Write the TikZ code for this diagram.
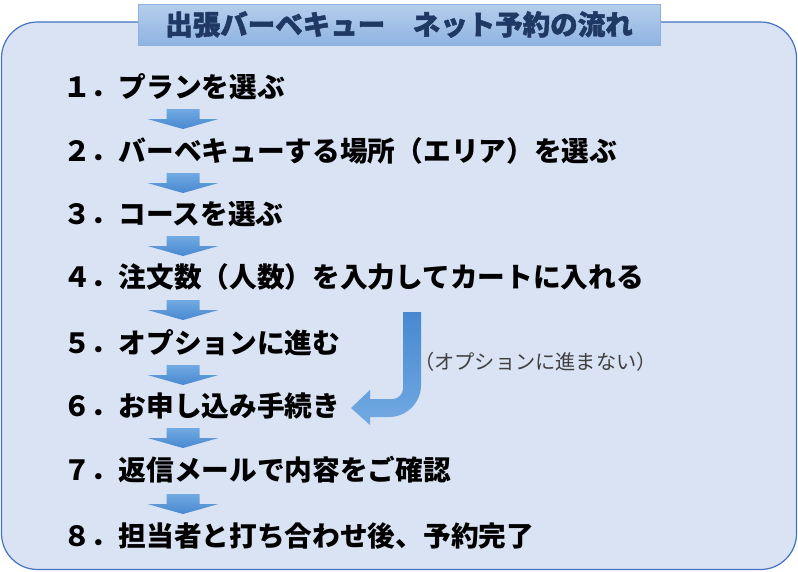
\documentclass[tikz,border=0pt]{standalone}
\usepackage{fontspec}
\newfontfamily\jp{Noto Sans CJK JP}
\newfontfamily\jpheavy{Noto Sans CJK JP}[FakeBold=1.5]
\definecolor{boxfill}{HTML}{DAE3F3}
\definecolor{boxline}{HTML}{4472C4}
\definecolor{titletop}{HTML}{B6CEEC}
\definecolor{titlebot}{HTML}{8FB3E2}
\definecolor{titleline}{HTML}{8EB2E0}
\definecolor{titletext}{HTML}{1F3864}
\definecolor{arrLight}{HTML}{72AAE2}
\definecolor{arrDark}{HTML}{4788D0}
\definecolor{notetext}{HTML}{404040}
\tikzset{
  steptext/.style={anchor=west,inner sep=0pt,font=\jp\bfseries\fontsize{27.7}{30}\selectfont,text height=0.88em,text depth=0.12em,text=black},
  notelabel/.style={anchor=west,inner sep=0pt,font=\jp\fontsize{20.2}{22}\selectfont,text=notetext,text height=0.88em,text depth=0.12em},
  titlelabel/.style={inner sep=0pt,font=\jpheavy\bfseries\fontsize{27.5}{30}\selectfont,text=titletext,text height=0.88em,text depth=0.12em},
  downarr/.pic={
    \shade[top color=arrLight,bottom color=arrDark]
      (-16.5,-10) -- (16.5,-10) -- (16.5,0) -- (35.5,0) -- (0,10) -- (-35.5,0) -- (-16.5,0) -- cycle;
  }
}
\begin{document}
\begin{tikzpicture}[x=1pt,y=-1pt]
\useasboundingbox (0,0) rectangle (798,571);
% main panel
\draw[fill=boxfill,draw=boxline,line width=1.2pt,rounded corners=36pt] (1.5,22) rectangle (796.5,569.5);
% title
\shade[top color=titletop,bottom color=titlebot] (138,4) rectangle (660,45);
\draw[titleline,line width=0.8pt] (138,4) rectangle (660,45);
\node[titlelabel] (title) at (399,31) {出張バーベキュー　ネット予約の流れ};
% steps
\node[steptext] (s1) at (63,94) {１．プランを選ぶ};
\node[steptext] (s2) at (63,158) {２．バーベキューする場所（エリア）を選ぶ};
\node[steptext] (s3) at (63,221) {３．コースを選ぶ};
\node[steptext] (s4) at (63,284) {４．注文数（人数）を入力してカートに入れる};
\node[steptext] (s5) at (63,350) {５．オプションに進む};
\node[steptext] (s6) at (63,413) {６．お申し込み手続き};
\node[steptext] (s7) at (63,477) {７．返信メールで内容をご確認};
\node[steptext] (s8) at (63,543) {８．担当者と打ち合わせ後、予約完了};
% down arrows
\pic at (183,119) {downarr};
\pic at (183,183) {downarr};
\pic at (183,246) {downarr};
\pic at (183,310) {downarr};
\pic at (183,375) {downarr};
\pic at (183,438) {downarr};
\pic at (183,504) {downarr};
% bent arrow (skip option)
\shade[top color=arrDark,bottom color=arrLight]
  (403,312) -- (421,312) -- (421,385)
  .. controls (421,402.7) and (406.7,417) .. (389,417)
  -- (370,417) -- (370,425) -- (351,408) -- (370,390) -- (370,399) -- (393,399)
  .. controls (398.5,399) and (403,393.5) .. (403,389) -- cycle;
\node[notelabel] (note) at (414,366) {（オプションに進まない）};
\end{tikzpicture}
\end{document}
